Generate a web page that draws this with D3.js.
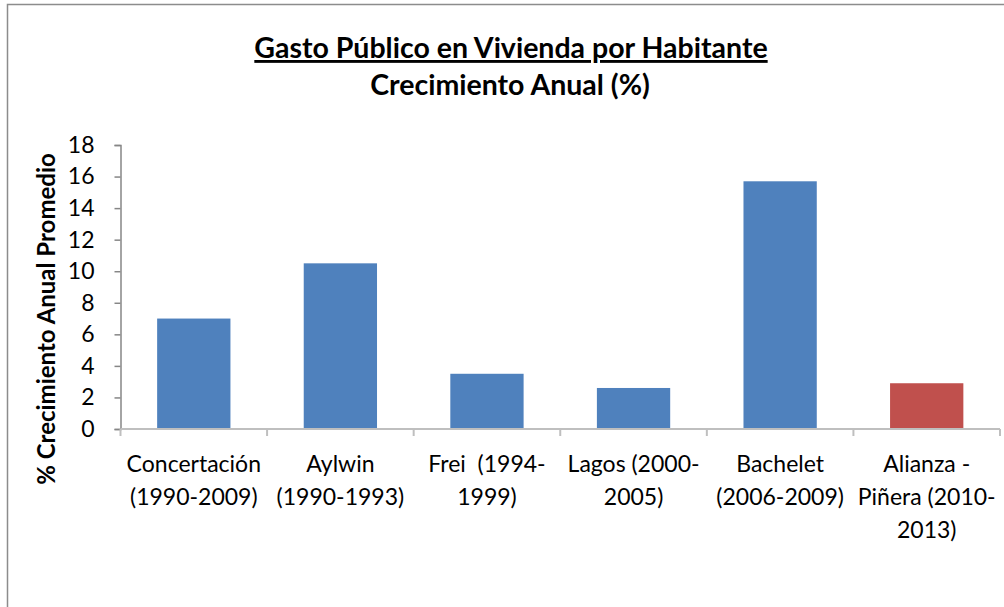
<!DOCTYPE html>
<html><head><meta charset="utf-8">
<script src="https://cdn.jsdelivr.net/npm/d3@7"></script>
<style>body{margin:0;background:#fff}svg{display:block}text{font-family:Lato,"Open Sans",sans-serif;fill:#000}</style>
</head><body><svg id="c" width="1004" height="607"></svg>
<script>
const categories = [
  ["Concertación","(1990-2009)"],
  ["Aylwin","(1990-1993)"],
  ["Frei  (1994-","1999)"],
  ["Lagos (2000-","2005)"],
  ["Bachelet","(2006-2009)"],
  ["Alianza -","Piñera (2010-","2013)"]
];
const values = [7.0, 10.5, 3.5, 2.6, 15.7, 2.9];
const barColors = ["#4f81bd","#4f81bd","#4f81bd","#4f81bd","#4f81bd","#c0504d"];
const yTicks = [0,2,4,6,8,10,12,14,16,18];
const title1 = "Gasto Público en Vivienda por Habitante";
const title2 = "Crecimiento Anual (%)";
const yTitle = "% Crecimiento Anual Promedio";

const svg = d3.select("#c");
svg.append("rect").attr("x",7.5).attr("y",4.5).attr("width",1010).attr("height",620)
  .attr("fill","none").attr("stroke","#8c8c8c").attr("stroke-width",1.5);

const x0 = 120.5, x1 = 1000, y0 = 429, y1 = 145;
const x = d3.scaleBand().domain(d3.range(categories.length)).range([x0,x1]).paddingInner(0.5).paddingOuter(0.25);
const y = d3.scaleLinear().domain([0,18]).range([y0,y1]);

// bars
svg.selectAll("rect.bar").data(values).join("rect").attr("class","bar")
  .attr("x",(d,i)=>x(i)).attr("width",x.bandwidth())
  .attr("y",d=>y(d)).attr("height",d=>y(0)-y(d))
  .attr("fill",(d,i)=>barColors[i]);

// y axis
const ya = svg.append("g").attr("transform",`translate(${x0},0)`)
  .call(d3.axisLeft(y).tickValues(yTicks).tickSize(6).tickPadding(20).tickFormat(d3.format("d")));
ya.select(".domain").attr("stroke","#868686").attr("stroke-width",1.5);
ya.selectAll(".tick line").attr("stroke","#868686").attr("stroke-width",1.5);
ya.selectAll(".tick text").style("font-size","23px").attr("fill","#000");

// x axis
const step = (x1-x0)/categories.length;
const xa = svg.append("g").attr("transform",`translate(0,${y0})`);
xa.append("line").attr("x1",x0).attr("x2",x1).attr("stroke","#bfbfbf").attr("stroke-width",2);
xa.selectAll("line.t").data(d3.range(categories.length+1)).join("line").attr("class","t")
  .attr("x1",i=>x0+i*step).attr("x2",i=>x0+i*step).attr("y1",0).attr("y2",7)
  .attr("stroke","#bfbfbf").attr("stroke-width",2);
const lab = xa.selectAll("text.cat").data(categories).join("text").attr("class","cat")
  .attr("text-anchor","middle").style("font-size","23px")
  .attr("transform",(d,i)=>`translate(${x(i)+x.bandwidth()/2},43)`);
lab.selectAll("tspan").data(d=>d).join("tspan").attr("x",0).attr("y",(d,j)=>j*33).text(d=>d)
  .style("white-space","pre");

// titles
svg.append("text").attr("x",511).attr("y",58).attr("text-anchor","middle")
  .style("font-size","28.5px").style("font-weight","bold").style("text-decoration","underline").text(title1);
svg.append("text").attr("x",510).attr("y",95).attr("text-anchor","middle")
  .style("font-size","28.5px").style("font-weight","bold").text(title2);
svg.append("text").attr("transform","translate(55,319) rotate(-90)").attr("text-anchor","middle")
  .style("font-size","24px").style("font-weight","bold").text(yTitle);
</script></body></html>
